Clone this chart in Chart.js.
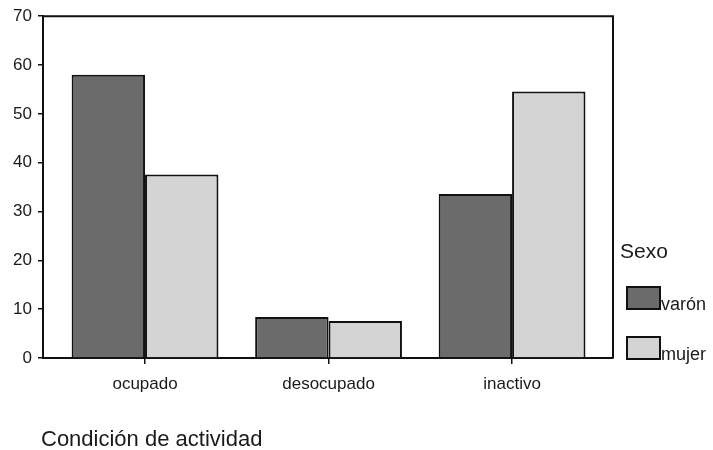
<!DOCTYPE html>
<html>
<head>
<meta charset="utf-8">
<script src="https://cdn.jsdelivr.net/npm/chart.js@4.4.1/dist/chart.umd.min.js"></script>
<style>
  html, body { margin: 0; padding: 0; background: #fff; }
  #wrap { width: 713px; height: 450px; position: relative; }
</style>
</head>
<body>
<div id="wrap"><canvas id="c" width="713" height="450"></canvas></div>
<script>
const categories = ["ocupado", "desocupado", "inactivo"];
const seriesNames = ["varón", "mujer"];
const varonValues = [58.0, 8.4, 33.6];
const mujerValues = [37.6, 7.6, 54.6];
const yTicks = [0, 10, 20, 30, 40, 50, 60, 70];
const legendTitle = "Sexo";
const xAxisTitle = "Condición de actividad";

const FONT = "'Liberation Sans', Arial, sans-serif";
const DARK = "#6b6b6b";
const LIGHT = "#d4d4d4";

function toPoints(vals) { return vals.map((v, i) => ({ x: i, y: v })); }

const framePlugin = {
  id: 'frame',
  afterDraw(chart) {
    const { ctx, chartArea: a } = chart;
    ctx.save();
    ctx.strokeStyle = '#111';
    ctx.lineWidth = 2;
    ctx.beginPath();
    ctx.moveTo(a.left, a.top);
    ctx.lineTo(a.right, a.top);
    ctx.lineTo(a.right, a.bottom);
    ctx.stroke();

    // axis title
    ctx.fillStyle = '#1a1a1a';
    ctx.font = `22px ${FONT}`;
    ctx.textBaseline = 'alphabetic';
    ctx.textAlign = 'left';
    ctx.fillText(xAxisTitle, 41, 446);

    // legend
    ctx.font = `21px ${FONT}`;
    ctx.fillText(legendTitle, 620, 258);
    const boxes = [287, 337];
    chart.data.datasets.forEach((ds, i) => {
      const y = boxes[i];
      ctx.fillStyle = ds.backgroundColor;
      ctx.fillRect(627, y, 33, 22);
      ctx.strokeStyle = '#111';
      ctx.lineWidth = 2;
      ctx.strokeRect(627, y, 33, 22);
      ctx.fillStyle = '#1a1a1a';
      ctx.font = `18px ${FONT}`;
      ctx.fillText(ds.label, 661, y + 23);
    });
    ctx.restore();
  }
};

new Chart(document.getElementById('c'), {
  type: 'bar',
  data: {
    datasets: [
      { label: seriesNames[0], data: toPoints(varonValues), backgroundColor: DARK, borderColor: '#111', borderWidth: 2 },
      { label: seriesNames[1], data: toPoints(mujerValues), backgroundColor: LIGHT, borderColor: '#111', borderWidth: 2 }
    ]
  },
  options: {
    responsive: false,
    animation: false,
    devicePixelRatio: 1,
    layout: { padding: { top: 16, right: 100, left: 0, bottom: 0 } },
    plugins: { legend: { display: false }, tooltip: { enabled: false }, title: { display: false } },
    datasets: { bar: { categoryPercentage: 0.8, barPercentage: 1.0 } },
    scales: {
      x: {
        type: 'linear',
        offset: false,
        min: -0.556,
        max: 2.55,
        afterBuildTicks(scale) { scale.ticks = categories.map((_, i) => ({ value: i })); },
        afterFit(scale) { scale.height = 92; },
        ticks: {
          callback: (v) => categories[v],
          font: { family: FONT, size: 17 },
          color: '#1a1a1a',
          padding: 10,
          maxRotation: 0,
          autoSkip: false
        },
        grid: { display: true, offset: false, drawOnChartArea: false, drawTicks: true, tickLength: 6, color: '#111', lineWidth: 1.5 },
        border: { display: true, color: '#111', width: 2 }
      },
      y: {
        min: 0,
        max: 70,
        afterBuildTicks(scale) { scale.ticks = yTicks.map(v => ({ value: v })); },
        afterFit(scale) { scale.width = 43; },
        ticks: {
          font: { family: FONT, size: 17 },
          color: '#1a1a1a',
          padding: 6
        },
        grid: { display: true, drawOnChartArea: false, drawTicks: true, tickLength: 5, color: '#111', lineWidth: 1.5 },
        border: { display: true, color: '#111', width: 2 }
      }
    }
  },
  plugins: [framePlugin]
});
</script>
</body>
</html>
